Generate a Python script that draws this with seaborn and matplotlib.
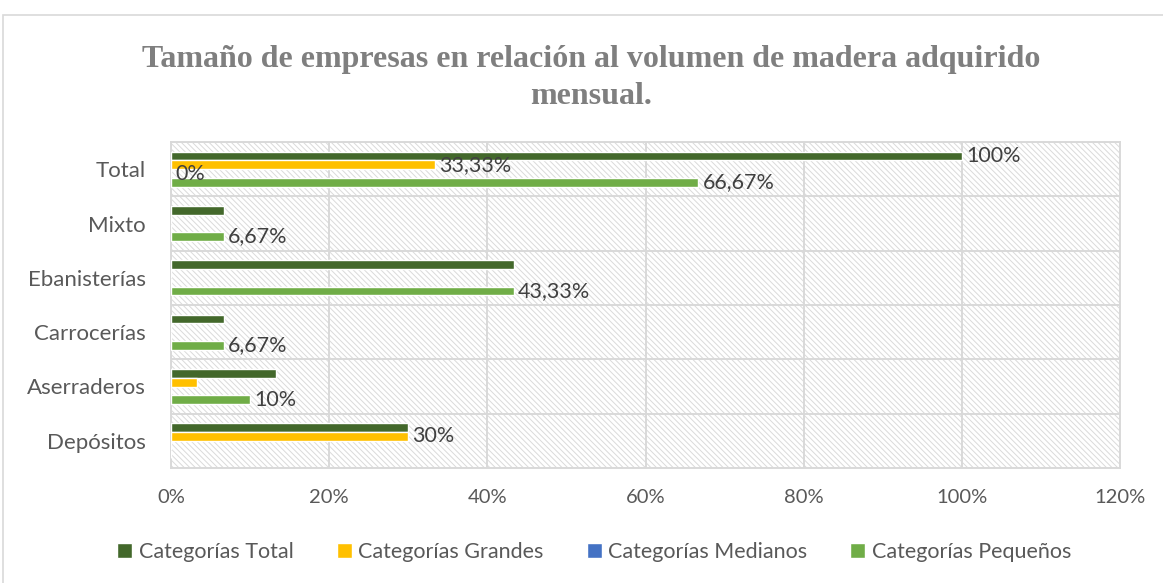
import matplotlib
matplotlib.use("Agg")
import matplotlib.pyplot as plt
from matplotlib.patches import Rectangle
from matplotlib.ticker import FuncFormatter
import pandas as pd
import seaborn as sns

# datos (fraccion del total)
categorias = ["Total", "Mixto", "Ebanisterías", "Carrocerías", "Aserraderos", "Depósitos"]
series = ["Categorías Total", "Categorías Grandes", "Categorías Medianos", "Categorías Pequeños"]
total = [1.0, 0.0667, 0.4333, 0.0667, 0.1333, 0.30]
grandes = [0.3333, 0.0, 0.0, 0.0, 0.0333, 0.30]
medianos = [0.0, 0.0, 0.0, 0.0, 0.0, 0.0]
pequenos = [0.6667, 0.0667, 0.4333, 0.0667, 0.10, 0.0]

# etiquetas de datos que aparecen en el grafico
etq_total = ["100%", "", "", "", "", ""]
etq_grandes = ["33,33%", "", "", "", "", "30%"]
etq_medianos = ["0%", "", "", "", "", ""]
etq_pequenos = ["66,67%", "6,67%", "43,33%", "6,67%", "10%", ""]

colores = ["#43682B", "#FFC000", "#4472C4", "#70AD47"]

df = pd.DataFrame({"categoria": categorias * 4,
                   "serie": [s for s in series for _ in categorias],
                   "valor": total + grandes + medianos + pequenos})

sns.set_style("white")
plt.rcParams["font.family"] = ["Lato", "DejaVu Sans"]
plt.rcParams["hatch.linewidth"] = 0.7

fig = plt.figure(figsize=(11.63, 5.83), dpi=100)
ax = fig.add_axes([171 / 1163, 1 - 468 / 583, (1120 - 171) / 1163, (468 - 142) / 583])

# fondo rayado del area de trazado
ax.add_patch(Rectangle((0, 0), 1, 1, transform=ax.transAxes, facecolor="white",
                       edgecolor="#dadada", hatch="\\\\\\\\\\\\", linewidth=0, zorder=0))

sns.barplot(data=df, y="categoria", x="valor", hue="serie", order=categorias,
            hue_order=series, palette=colores, saturation=1, width=0.64,
            orient="h", ax=ax, zorder=3)

gris = "#d9d9d9"
ax.set_xlim(0, 1.2)
ax.set_ylim(5.5, -0.5)
ax.set_xticks([0, 0.2, 0.4, 0.6, 0.8, 1.0, 1.2])
ax.xaxis.set_major_formatter(FuncFormatter(lambda v, p: f"{v:.0%}"))
ax.set_yticks(range(len(categorias)))
ax.set_yticklabels(categorias)
ax.set_yticks([i - 0.5 for i in range(len(categorias) + 1)], minor=True)
ax.grid(axis="x", which="major", color=gris, linewidth=1.4)
ax.grid(axis="y", which="minor", color=gris, linewidth=1.4)
ax.set_axisbelow(True)
ax.tick_params(axis="y", which="major", length=0, pad=18, labelsize=16, labelcolor="#595959")
ax.tick_params(axis="y", which="minor", length=11, width=1.4, color=gris, direction="out")
ax.tick_params(axis="x", length=0, pad=15, labelsize=14.5, labelcolor="#595959")
for s in ax.spines.values():
    s.set_color(gris)
    s.set_linewidth(1.4)
ax.set_xlabel("")
ax.set_ylabel("")

for cont, etq in zip(ax.containers, [etq_total, etq_grandes, etq_medianos, etq_pequenos]):
    ax.bar_label(cont, labels=etq, padding=3, fontsize=15.5, color="#404040")

handles, labels = ax.get_legend_handles_labels()
ax.legend(handles, labels, loc="center", bbox_to_anchor=(0.511, 1 - 552 / 583),
          bbox_transform=fig.transFigure, ncol=4, frameon=False, fontsize=15.5,
          labelcolor="#595959", handlelength=0.7, handleheight=0.7,
          handletextpad=0.3, columnspacing=2.0)

fig.text(0.508, 1 - 59 / 583, "Tamaño de empresas en relación al volumen de madera adquirido",
         ha="center", va="center", fontsize=23, fontweight="bold",
         family="Liberation Serif", color="#7f7f7f")
fig.text(0.508, 1 - 97 / 583, "mensual.", ha="center", va="center", fontsize=23,
         fontweight="bold", family="Liberation Serif", color="#7f7f7f")

# borde del grafico
fig.add_artist(Rectangle((3 / 1163, -0.1), 1.2, 0.1 + 1 - 15 / 583, transform=fig.transFigure,
                         fill=False, edgecolor=gris, linewidth=1.2))

fig.savefig("out.png", dpi=100)
